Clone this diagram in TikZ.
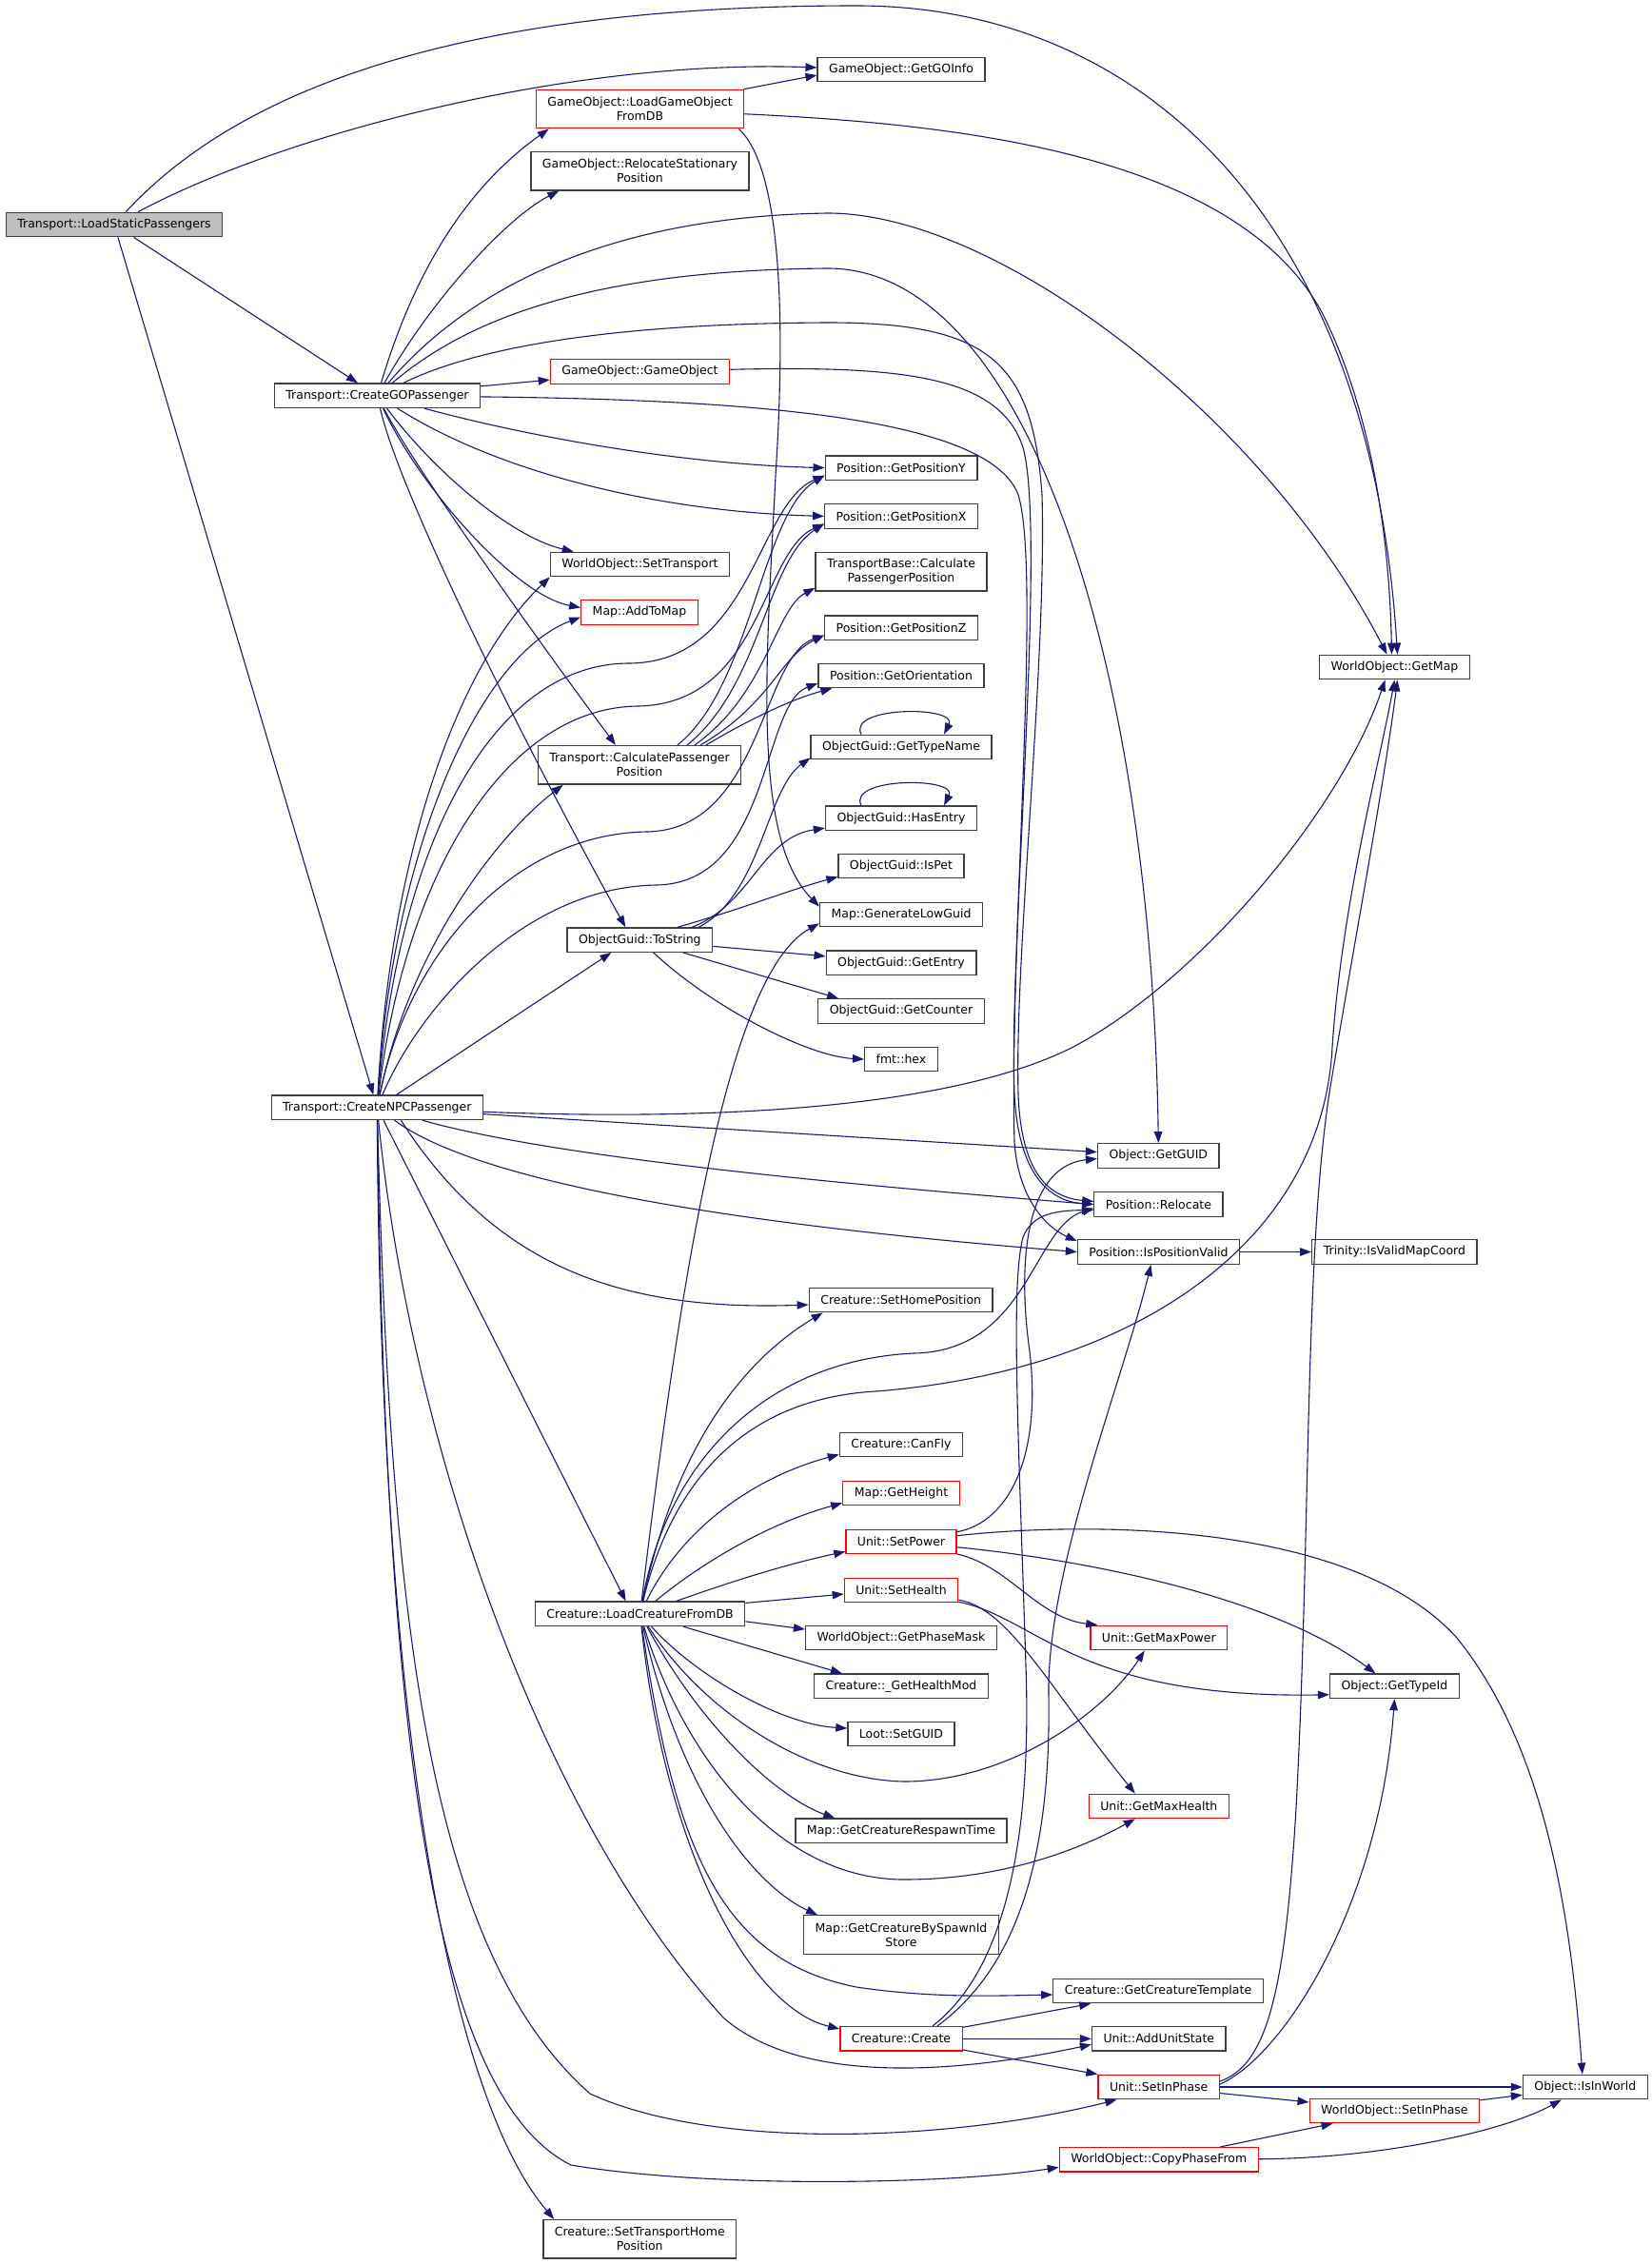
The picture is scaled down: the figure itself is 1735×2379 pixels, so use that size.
\documentclass[tikz,border=0pt]{standalone}
\usepackage{fontspec}
\setmainfont{DejaVu Sans}
\usetikzlibrary{arrows.meta, positioning}
\definecolor{edge1}{RGB}{25,25,112}
\definecolor{frame1}{RGB}{64,64,64}
\definecolor{root1}{RGB}{191,191,191}
\newcommand{\fnfont}{\fontsize{12.5}{15}\selectfont}

\begin{document}
\begin{tikzpicture}[x=1pt, y=-1pt,
    fn/.style={draw=frame1, line width=1.3pt, fill=white, inner xsep=12pt, inner ysep=0pt,
      minimum height=25.5pt, align=center, font=\fnfont},
    fntwo/.style={fn, minimum height=40.5pt},
    fnred/.style={draw=red},
    fnroot/.style={fill=root1},
    call/.style={-{Triangle[length=12pt, width=8.5pt]}, edge1, line width=1.1pt}
]
\path[use as bounding box, fill=white] (0,0) rectangle (1735,2379);

% caller
\node[fn, fnroot] (lsp) at (120,236) {Transport::LoadStaticPassengers};

% passengers
\node[fn] (cgo) at (396.5,415.8) {Transport::CreateGOPassenger};
\node[fn] (npc) at (396.3,1163.8) {Transport::CreateNPCPassenger};

% third column
\node[fntwo, fnred] (lgo) at (672.5,114.6) {GameObject::LoadGameObject\\FromDB};
\node[fntwo] (rsp) at (672.5,179.7) {GameObject::RelocateStationary\\Position};
\node[fn, fnred] (goctor) at (672.5,390.5) {GameObject::GameObject};
\node[fn] (settr) at (672.5,593) {WorldObject::SetTransport};
\node[fn, fnred] (addmap) at (672,643.5) {Map::AddToMap};
\node[fntwo] (cpp) at (672,803.8) {Transport::CalculatePassenger\\Position};
\node[fn] (tostr) at (672.3,987.6) {ObjectGuid::ToString};
\node[fn] (lcdb) at (672.6,1695.8) {Creature::LoadCreatureFromDB};
\node[fntwo] (transhome) at (672.3,2352.8) {Creature::SetTransportHome\\Position};

% fourth column
\node[fn] (goinfo) at (947,73) {GameObject::GetGOInfo};
\node[fn] (posy) at (947,491.6) {Position::GetPositionY};
\node[fn] (posx) at (947,542.4) {Position::GetPositionX};
\node[fntwo] (tbcpp) at (947,600.8) {TransportBase::Calculate\\PassengerPosition};
\node[fn] (posz) at (947,659.6) {Position::GetPositionZ};
\node[fn] (orient) at (947,710) {Position::GetOrientation};
\node[fn] (typename) at (947,785) {ObjectGuid::GetTypeName};
\node[fn] (hasentry) at (947,859.8) {ObjectGuid::HasEntry};
\node[fn] (ispet) at (947,910) {ObjectGuid::IsPet};
\node[fn] (lowguid) at (947,961) {Map::GenerateLowGuid};
\node[fn] (getentry) at (947,1011.8) {ObjectGuid::GetEntry};
\node[fn] (counter) at (947,1062.5) {ObjectGuid::GetCounter};
\node[fn] (hex) at (947,1113) {fmt::hex};
\node[fn] (homepos) at (946.7,1366) {Creature::SetHomePosition};
\node[fn] (canfly) at (947,1518) {Creature::CanFly};
\node[fn, fnred] (height) at (947,1569) {Map::GetHeight};
\node[fn, fnred] (setpower) at (947,1620) {Unit::SetPower};
\node[fn, fnred] (sethealth) at (947,1671) {Unit::SetHealth};
\node[fn] (phasemask) at (947,1721) {WorldObject::GetPhaseMask};
\node[fn] (healthmod) at (947,1771.8) {Creature::\_GetHealthMod};
\node[fn] (setguid) at (947,1822) {Loot::SetGUID};
\node[fn] (respawn) at (947,1923.8) {Map::GetCreatureRespawnTime};
\node[fntwo] (spawnstore) at (947,2033) {Map::GetCreatureBySpawnId\\Store};
\node[fn, fnred] (create) at (947,2142.3) {Creature::Create};

% fifth column
\node[fn] (guid) at (1217.3,1214.5) {Object::GetGUID};
\node[fn] (reloc) at (1217.4,1265.5) {Position::Relocate};
\node[fn] (posvalid) at (1217.5,1315.5) {Position::IsPositionValid};
\node[fn, fnred] (maxpower) at (1217.8,1721) {Unit::GetMaxPower};
\node[fn, fnred] (maxhealth) at (1217.8,1898) {Unit::GetMaxHealth};
\node[fn] (template) at (1217,2092) {Creature::GetCreatureTemplate};
\node[fn] (addstate) at (1217.8,2142.3) {Unit::AddUnitState};
\node[fn, fnred] (unitphase) at (1217.7,2193) {Unit::SetInPhase};
\node[fn, fnred] (copyphase) at (1217.8,2269.3) {WorldObject::CopyPhaseFrom};

% right columns
\node[fn] (getmap) at (1465.5,701) {WorldObject::GetMap};
\node[fn] (mapcoord) at (1465.4,1315.5) {Trinity::IsValidMapCoord};
\node[fn] (typeid) at (1465.4,1771.8) {Object::GetTypeId};
\node[fn, fnred] (wophase) at (1465.4,2218) {WorldObject::SetInPhase};
\node[fn] (inworld) at (1665.8,2193) {Object::IsInWorld};

% calls of the caller
\draw[call] (lsp) .. controls (250,95) and (480,6) .. (900,6) .. controls (1200,6) and (1440,230) .. ([xshift=3pt]getmap.north);
\draw[call] (lsp) .. controls (300,140) and (600,62) .. ([yshift=2pt]goinfo.west);
\draw[call] (lsp) -- (cgo);
\draw[call] (lsp) -- (npc);

% calls of CreateGOPassenger
\draw[call] (cgo) .. controls (440,270) and (500,190) .. ([xshift=14pt]lgo.south west);
\draw[call] (cgo) .. controls (450,320) and (530,230) .. ([xshift=30pt]rsp.south west);
\draw[call] (cgo) .. controls (470,330) and (600,228) .. (870,224) .. controls (1050,224) and (1330,440) .. ([xshift=-8pt]getmap.north);
\draw[call] (cgo) .. controls (480,345) and (600,284) .. (870,282) .. controls (1080,282) and (1210,700) .. (guid.north);
\draw[call] (cgo) .. controls (490,370) and (620,340) .. (870,339) .. controls (1040,339) and (1085,380) .. (1095,520)
  .. controls (1100,700) and (1066,1000) .. (1070,1150) .. controls (1073,1230) and (1100,1258) .. ([yshift=3pt]reloc.west);
\draw[call] (cgo) -- (goctor);
\draw[call] (cgo) .. controls (800,420) and (1040,440) .. (1070,520) .. controls (1095,600) and (1060,1000) .. (1066,1200)
  .. controls (1070,1260) and (1100,1290) .. ([yshift=-2pt]posvalid.north west);
\draw[call] (cgo) .. controls (560,460) and (720,488) .. (posy.west);
\draw[call] (cgo) .. controls (530,500) and (700,538) .. (posx.west);
\draw[call] (cgo) .. controls (460,500) and (540,565) .. ([xshift=25pt]settr.north west);
\draw[call] (cgo) .. controls (440,510) and (540,625) .. ([yshift=5pt]addmap.west);
\draw[call] (cgo) .. controls (440,500) and (600,720) .. ([xshift=-25pt]cpp.north);
\draw[call] (cgo) .. controls (420,520) and (560,800) .. ([xshift=-15pt]tostr.north);

% calls of LoadGameObjectFromDB and GameObject
\draw[call] (lgo) -- ([yshift=-6pt]goinfo.west);
\draw[call] (lgo) .. controls (1000,130) and (1300,160) .. (1390,330) .. controls (1440,430) and (1460,560) .. ([xshift=-3pt]getmap.north);
\draw[call] ([xshift=-6pt]lgo.south east) .. controls (815,170) and (828,300) .. (815,500) .. controls (805,700) and (790,880) .. ([yshift=-5pt]lowguid.north west);
\draw[call] (goctor) .. controls (950,384) and (1050,395) .. (1075,470) .. controls (1100,560) and (1060,1000) .. (1066,1150)
  .. controls (1070,1230) and (1100,1262) .. (reloc.west);

% calls of CalculatePassengerPosition
\draw[call] ([xshift=40pt]cpp.north) .. controls (790,720) and (800,540) .. ([yshift=-8pt]posy.west);
\draw[call] ([xshift=50pt]cpp.north) .. controls (800,720) and (805,590) .. ([yshift=-8pt]posx.west);
\draw[call] ([xshift=58pt]cpp.north) .. controls (805,730) and (815,640) .. ([yshift=4pt]tbcpp.south west);
\draw[call] ([xshift=64pt]cpp.north) .. controls (810,740) and (820,690) .. ([yshift=-8pt]posz.west);
\draw[call] ([xshift=70pt]cpp.north) .. controls (780,760) and (830,735) .. ([xshift=15pt]orient.south west);

% calls of ToString
\draw[call] ([xshift=62pt]tostr.north) .. controls (800,940) and (805,830) .. ([yshift=2pt]typename.south west);
\draw[call] ([xshift=55pt]tostr.north) .. controls (790,950) and (800,880) .. ([yshift=3pt]hasentry.south west);
\draw[call] ([xshift=40pt]tostr.north) .. controls (780,955) and (830,935) .. ([yshift=2pt]ispet.south west);
\draw[call] (tostr) -- (getentry);
\draw[call] (tostr) -- ([xshift=22pt]counter.north west);
\draw[call] (tostr) .. controls (750,1060) and (850,1110) .. (hex.west);
\foreach \n in {typename, hasentry}
  \draw[call] ([xshift=-42pt]\n.north) .. controls +(-15,-30) and +(15,-30) .. ([xshift=45pt]\n.north);

% calls of CreateNPCPassenger
\draw[call] (npc) .. controls (410,900) and (480,700) .. (settr.south west);
\draw[call] (npc) .. controls (412,900) and (500,690) .. ([yshift=-5pt]addmap.west);
\draw[call] (npc) .. controls (420,880) and (520,698) .. (660,697) .. controls (790,697) and (795,530) .. ([yshift=-8pt]posy.west);
\draw[call] (npc) .. controls (425,920) and (530,744) .. (670,742) .. controls (800,740) and (800,580) .. ([yshift=-8pt]posx.west);
\draw[call] (npc) .. controls (430,1000) and (540,876) .. (680,874) .. controls (800,872) and (800,690) .. ([yshift=-8pt]posz.west);
\draw[call] (npc) .. controls (440,1060) and (550,932) .. (690,930) .. controls (810,928) and (800,740) .. ([yshift=-8pt]orient.west);
\draw[call] (npc) .. controls (430,1000) and (520,880) .. ([xshift=27pt]cpp.south west);
\draw[call] (npc) -- ([xshift=47pt]tostr.south west);
\draw[call] (npc) .. controls (750,1178) and (1000,1165) .. (1128,1100) .. controls (1260,1030) and (1410,850) .. ([xshift=-10pt]getmap.south);
\draw[call] (npc) -- (guid);
\draw[call] (npc) .. controls (560,1210) and (800,1238) .. (reloc.west);
\draw[call] (npc) .. controls (500,1240) and (750,1285) .. (posvalid.west);
\draw[call] ([xshift=25pt]npc.south) .. controls (520,1330) and (650,1378) .. ([yshift=-5pt]homepos.west);
\draw[call] (npc) -- ([xshift=-15pt]lcdb.north);
\draw[call] (npc) .. controls (430,1500) and (560,1900) .. (760,2120) .. controls (840,2190) and (1000,2180) .. ([yshift=-6pt]addstate.west);
\draw[call] (npc) .. controls (410,1700) and (450,2050) .. (620,2200) .. controls (750,2260) and (1000,2250) .. ([xshift=20pt]unitphase.south west);
\draw[call] (npc) .. controls (405,1800) and (450,2200) .. (600,2275) .. controls (750,2300) and (1000,2295) .. ([yshift=-8pt]copyphase.west);
\draw[call] (npc) .. controls (400,1800) and (470,2200) .. ([xshift=12pt]transhome.north west);

% calls of LoadCreatureFromDB
\draw[call] (lcdb) .. controls (720,1300) and (770,1020) .. ([yshift=4pt]lowguid.south west);
\draw[call] (lcdb) .. controls (710,1520) and (780,1430) .. ([xshift=15pt]homepos.south west);
\draw[call] (lcdb) .. controls (700,1540) and (800,1430) .. (960,1422) .. controls (1080,1420) and (1085,1290) .. ([yshift=-4pt]reloc.west);
\draw[call] (lcdb) .. controls (705,1560) and (780,1470) .. (920,1462) .. controls (1200,1440) and (1390,1300) .. (1400,1100)
  .. controls (1410,950) and (1450,800) .. (getmap.south);
\draw[call] (lcdb) .. controls (720,1600) and (800,1550) .. ([yshift=3pt]canfly.south west);
\draw[call] (lcdb) .. controls (740,1640) and (810,1600) .. ([yshift=3pt]height.south west);
\draw[call] (lcdb) .. controls (760,1665) and (820,1645) .. ([yshift=3pt]setpower.south west);
\draw[call] ([yshift=-2pt]lcdb.north east) -- ([yshift=-4pt]sethealth.west);
\draw[call] ([yshift=-8pt]lcdb.east) -- ([yshift=9pt]phasemask.west);
\draw[call] (lcdb) -- ([xshift=30pt]healthmod.north west);
\draw[call] (lcdb) .. controls (730,1760) and (820,1812) .. ([yshift=6pt]setguid.west);
\draw[call] (lcdb) .. controls (740,1800) and (850,1870) .. (950,1872) .. controls (1060,1872) and (1160,1800) .. ([xshift=-15pt]maxpower.south);
\draw[call] (lcdb) .. controls (740,1820) and (820,1890) .. ([xshift=42pt]respawn.north west);
\draw[call] (lcdb) .. controls (720,1850) and (820,1975) .. (950,1975) .. controls (1060,1975) and (1140,1940) .. ([xshift=-25pt]maxhealth.south);
\draw[call] (lcdb) .. controls (720,1900) and (800,1985) .. ([xshift=15pt]spawnstore.north west);
\draw[call] (lcdb) .. controls (710,1950) and (760,2060) .. (900,2088) .. controls (980,2100) and (1050,2097) .. ([yshift=-4pt]template.west);
\draw[call] (lcdb) .. controls (700,1950) and (790,2110) .. ([yshift=-3pt]create.north west);

% calls of SetPower and SetHealth
\draw[call] (setpower) .. controls (1060,1600) and (1095,1530) .. (1082,1420) .. controls (1068,1320) and (1080,1225) .. ([yshift=-3pt]guid.west);
\draw[call] (setpower) .. controls (1150,1598) and (1420,1600) .. (1530,1720) .. controls (1620,1830) and (1650,2000) .. ([xshift=-3pt]inworld.north);
\draw[call] (setpower) .. controls (1150,1640) and (1340,1680) .. ([xshift=-20pt]typeid.north);
\draw[call] (setpower) .. controls (1060,1645) and (1090,1700) .. ([xshift=8pt]maxpower.north west);
\draw[call] (sethealth) .. controls (1090,1700) and (1130,1785) .. ([yshift=-9pt]typeid.west);
\draw[call] (sethealth) .. controls (1060,1690) and (1100,1770) .. ([xshift=-25pt]maxhealth.north);

% calls of Create
\draw[call] (create) -- ([xshift=40pt]template.south west);
\draw[call] (create) -- (addstate);
\draw[call] (create) -- (unitphase.north west);
\draw[call] ([xshift=33pt]create.north) .. controls (1050,2075) and (1085,1950) .. (1078,1750) .. controls (1070,1500) and (1062,1350) .. (1075,1300)
  .. controls (1085,1275) and (1110,1272) .. ([yshift=-6pt]reloc.west);
\draw[call] ([xshift=38pt]create.north) .. controls (1065,2070) and (1105,1960) .. (1102,1780) .. controls (1100,1650) and (1180,1450) .. ([xshift=-8pt]posvalid.south);

% phase calls
\draw[call] (unitphase) -- (inworld);
\draw[call] (unitphase) -- (wophase);
\draw[call] ([yshift=3pt]unitphase.east) .. controls (1350,2160) and (1450,2000) .. (typeid.south);
\draw[call] ([yshift=6pt]unitphase.east) .. controls (1330,2170) and (1350,2100) .. (1362,1900) .. controls (1378,1600) and (1370,1300) .. (1400,1130)
  .. controls (1425,980) and (1455,820) .. ([xshift=3pt]getmap.south);
\draw[call] (wophase) -- (inworld);
\draw[call] (copyphase) -- ([xshift=25pt]wophase.south west);
\draw[call] (copyphase) .. controls (1450,2268) and (1580,2240) .. ([xshift=-25pt]inworld.south);
\draw[call] (posvalid) -- (mapcoord);

\end{tikzpicture}
\end{document}
